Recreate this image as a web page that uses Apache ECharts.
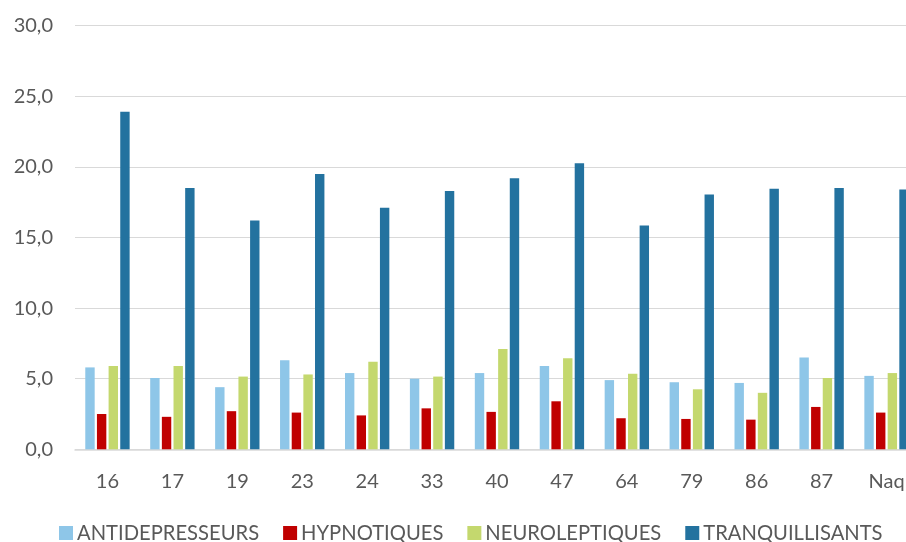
<!DOCTYPE html>
<html>
<head>
<meta charset="utf-8">
<script src="https://cdn.jsdelivr.net/npm/echarts@6/dist/echarts.min.js"></script>
<style>
html,body{margin:0;padding:0;background:#fff;}
#c{width:906px;height:542px;}
</style>
</head>
<body>
<div id="c"></div>
<script>
const categories = ['16','17','19','23','24','33','40','47','64','79','86','87','Naq'];
const antidepresseurs = [5.8, 5.05, 4.4, 6.3, 5.4, 5.0, 5.4, 5.9, 4.9, 4.75, 4.7, 6.5, 5.2];
const hypnotiques = [2.5, 2.3, 2.7, 2.6, 2.4, 2.9, 2.65, 3.4, 2.2, 2.15, 2.1, 3.0, 2.6];
const neuroleptiques = [5.9, 5.9, 5.15, 5.3, 6.2, 5.15, 7.1, 6.45, 5.35, 4.25, 4.0, 5.05, 5.4];
const tranquillisants = [23.9, 18.5, 16.2, 19.5, 17.1, 18.3, 19.2, 20.25, 15.85, 18.05, 18.45, 18.5, 18.4];
const seriesNames = ['ANTIDEPRESSEURS','HYPNOTIQUES','NEUROLEPTIQUES','TRANQUILLISANTS'];
const yTicks = {min: 0, max: 30, interval: 5};

const FONT = 'Lato';
const colors = ['#8EC6E8', '#C00000', '#C4D86E', '#23729F'];
const dataSets = [antidepresseurs, hypnotiques, neuroleptiques, tranquillisants];

const chart = echarts.init(document.getElementById('c'), null, {renderer: 'canvas'});
chart.setOption({
  animation: false,
  color: colors,
  textStyle: {fontFamily: FONT},
  grid: {left: 75, top: 25.7, width: 844, bottom: 92.7, containLabel: false, outerBoundsMode: 'none'},
  legend: {
    data: seriesNames,
    left: 59,
    top: 523,
    padding: 0,
    itemWidth: 14,
    itemHeight: 14,
    itemGap: 24,
    icon: 'rect',
    textStyle: {fontFamily: FONT, fontSize: 20.2, color: '#595959', padding: [0,0,0,-1]}
  },
  xAxis: {
    type: 'category',
    data: categories,
    axisTick: {show: false},
    axisLine: {lineStyle: {color: '#D9D9D9', width: 1.5}},
    axisLabel: {fontFamily: FONT, fontSize: 20, color: '#595959', margin: 22}
  },
  yAxis: {
    type: 'value',
    min: yTicks.min, max: yTicks.max, interval: yTicks.interval,
    axisLine: {show: false},
    axisTick: {show: false},
    splitLine: {lineStyle: {color: '#D9D9D9', width: 1}},
    axisLabel: {fontFamily: FONT, fontSize: 20, color: '#595959', margin: 22,
      formatter: v => v.toFixed(1).replace('.', ',')}
  },
  series: seriesNames.map((n, i) => ({
    name: n,
    type: 'bar',
    data: dataSets[i],
    barWidth: 9.4,
    barGap: '24%',
    itemStyle: {color: colors[i]}
  }))
});
</script>
</body>
</html>
